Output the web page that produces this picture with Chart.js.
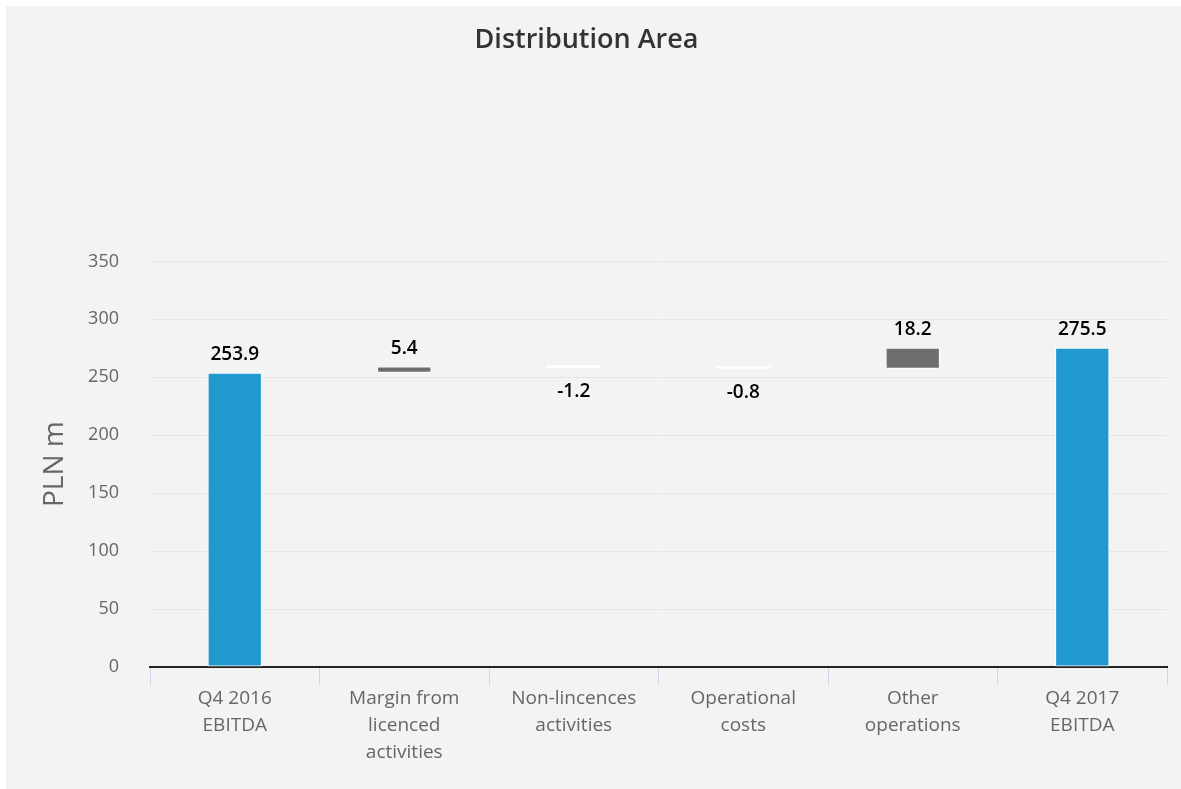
<!DOCTYPE html>
<html>
<head>
<meta charset="utf-8">
<title>Distribution Area</title>
<script src="https://cdn.jsdelivr.net/npm/chart.js@4.4.1/dist/chart.umd.min.js"></script>
<style>
  html, body { margin: 0; padding: 0; background: #fff; }
  #wrap {
    position: absolute; left: 6px; top: 6px;
    width: 1175px; height: 783px;
    background: #f3f3f3;
  }
</style>
</head>
<body>
<div id="wrap"><canvas id="chart" width="1175" height="783"></canvas></div>
<script>
// waterfall steps, PLN m
const categories = [
  ['Q4 2016', 'EBITDA'],
  ['Margin from', 'licenced', 'activities'],
  ['Non-lincences', 'activities'],
  ['Operational', 'costs'],
  ['Other', 'operations'],
  ['Q4 2017', 'EBITDA']
];
const changes = [253.9, 5.4, -1.2, -0.8, 18.2, 275.5];
const isTotal = [true, false, false, false, false, true];
const yTicks = [0, 50, 100, 150, 200, 250, 300, 350];

const BLUE = '#209ace';
const GREY = '#6e6e6e';
const FONT = '"Open Sans", Roboto, sans-serif';

// floating [start, end] ranges from the running total
let running = 0;
const ranges = changes.map((v, i) => {
  if (isTotal[i]) { running = v; return [0, v]; }
  const start = running;
  running += v;
  return [start, running];
});
const colors = changes.map((v, i) => isTotal[i] ? BLUE : (v < 0 ? '#ffffff' : GREY));

const valueLabels = {
  id: 'valueLabels',
  afterDatasetsDraw(chart) {
    const ctx = chart.ctx;
    const meta = chart.getDatasetMeta(0);
    ctx.save();
    ctx.font = '600 19px ' + FONT;
    ctx.fillStyle = '#000';
    ctx.textAlign = 'center';
    meta.data.forEach((bar, i) => {
      const top = Math.min(bar.y, bar.base);
      const bottom = Math.max(bar.y, bar.base);
      const txt = changes[i].toFixed(1);
      if (changes[i] < 0) {
        ctx.textBaseline = 'top';
        ctx.fillText(txt, bar.x, bottom + 14);
      } else {
        ctx.textBaseline = 'alphabetic';
        ctx.fillText(txt, bar.x, top - 13);
      }
    });
    ctx.restore();
  }
};

new Chart(document.getElementById('chart'), {
  type: 'bar',
  data: {
    labels: categories,
    datasets: [{
      data: ranges,
      backgroundColor: colors,
      borderColor: '#ffffff',
      borderWidth: 1,
      borderSkipped: false,
      minBarLength: 3,
      categoryPercentage: 1,
      barPercentage: 0.32
    }]
  },
  options: {
    responsive: false,
    animation: false,
    layout: { padding: { left: 0, right: 14, top: 0, bottom: 0 } },
    plugins: {
      legend: { display: false },
      tooltip: { enabled: false },
      title: {
        display: true,
        text: 'Distribution Area',
        color: '#333',
        font: { family: FONT, size: 27, weight: '600', lineHeight: 1.2 },
        padding: { top: 18, bottom: 205 }
      }
    },
    scales: {
      x: {
        afterFit: s => { s.height = 122; },
        grid: {
          offset: true,
          drawOnChartArea: false,
          drawTicks: true,
          tickLength: 18,
          color: '#ccd6eb',
          lineWidth: 1
        },
        border: { display: true, color: '#222', width: 2 },
        ticks: {
          color: '#666',
          padding: 0,
          maxRotation: 0,
          font: { family: FONT, size: 19, lineHeight: 1.42 }
        }
      },
      y: {
        min: 0,
        max: 350,
        afterFit: s => { s.width = 144; },
        afterBuildTicks: s => { s.ticks = yTicks.map(v => ({ value: v })); },
        grid: { color: '#e6e6e6', lineWidth: 1, drawTicks: false },
        border: { display: false },
        ticks: {
          color: '#666',
          padding: 31,
          font: { family: FONT, size: 18 }
        },
        title: {
          display: true,
          text: 'PLN m',
          color: '#666',
          padding: { top: 32, bottom: 0 },
          font: { family: FONT, size: 28, lineHeight: 1.2 }
        }
      }
    }
  },
  plugins: [valueLabels]
});
</script>
</body>
</html>
